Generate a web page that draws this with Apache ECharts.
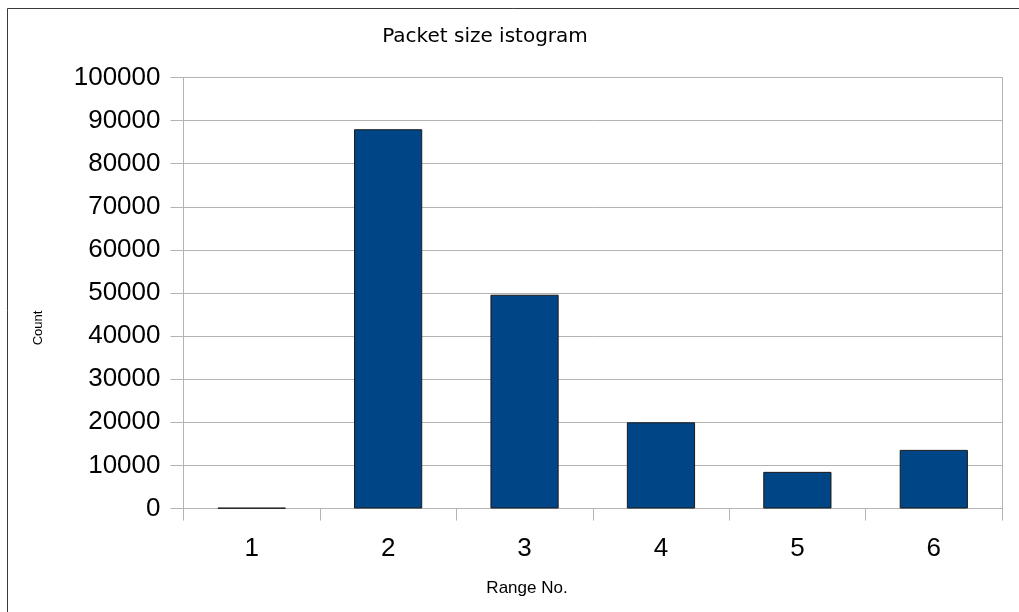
<!DOCTYPE html>
<html>
<head>
<meta charset="utf-8">
<script src="https://cdn.jsdelivr.net/npm/echarts@6/dist/echarts.min.js"></script>
<style>
  html, body { margin: 0; padding: 0; background: #fff; }
  #chart { width: 1019px; height: 612px; }
</style>
</head>
<body>
<div id="chart"></div>
<script>
// Packet counts per size range
const ranges = ['1', '2', '3', '4', '5', '6'];
const counts = [150, 88000, 49600, 20000, 8500, 13600];
const yTicks = { min: 0, max: 100000, step: 10000 };

const gridColor = '#b3b3b3';
const chart = echarts.init(document.getElementById('chart'), null, { renderer: 'canvas' });

chart.setOption({
  backgroundColor: '#ffffff',
  animation: false,
  title: {
    text: 'Packet size istogram',
    left: 480,
    top: 22,
    textAlign: 'center',
    textStyle: { fontFamily: 'DejaVu Sans', fontSize: 20, fontWeight: 'normal', color: '#000' }
  },
  graphic: [{
    type: 'rect',
    silent: true,
    shape: { x: 7.5, y: 8.5, width: 1100, height: 1000 },
    style: { fill: 'none', stroke: '#3a3a3a', lineWidth: 1 }
  }, {
    // x axis title
    type: 'text',
    silent: true,
    x: 527,
    y: 588,
    style: {
      text: 'Range No.',
      fontFamily: 'Liberation Sans',
      fontSize: 17,
      fill: '#000',
      align: 'center',
      verticalAlign: 'middle'
    }
  }, {
    // y axis title
    type: 'text',
    silent: true,
    x: 38,
    y: 328,
    rotation: Math.PI / 2,
    style: {
      text: 'Count',
      fontFamily: 'Liberation Sans',
      fontSize: 13,
      fill: '#000',
      align: 'center',
      verticalAlign: 'middle'
    }
  }],
  grid: { left: 183.5, right: 17, top: 77.5, bottom: 103.5 },
  xAxis: {
    type: 'category',
    data: ranges,
    axisLine: { show: true, lineStyle: { color: gridColor, width: 1 } },
    axisTick: { show: true, length: 12, lineStyle: { color: gridColor } },
    axisLabel: { fontFamily: 'Liberation Sans', fontSize: 26, color: '#000', margin: 27 },
    splitLine: { show: false }
  },
  yAxis: [{
    type: 'value',
    min: yTicks.min,
    max: yTicks.max,
    interval: yTicks.step,
    axisLine: { show: true, lineStyle: { color: gridColor, width: 1 } },
    axisTick: { show: true, length: 13, lineStyle: { color: gridColor } },
    axisLabel: {
      fontFamily: 'Liberation Sans', fontSize: 26, color: '#000', margin: 23,
      formatter: (v) => String(v)
    },
    splitLine: { show: true, lineStyle: { color: gridColor, width: 1 } }
  }, {
    type: 'value',
    position: 'right',
    min: yTicks.min,
    max: yTicks.max,
    interval: yTicks.step,
    axisLine: { show: true, lineStyle: { color: gridColor, width: 1 } },
    axisTick: { show: false },
    axisLabel: { show: false },
    splitLine: { show: false }
  }],
  series: [{
    type: 'bar',
    data: counts,
    yAxisIndex: 0,
    barWidth: '50%',
    itemStyle: { color: '#004586', borderColor: '#1a1a1a', borderWidth: 1 }
  }]
});
</script>
</body>
</html>
